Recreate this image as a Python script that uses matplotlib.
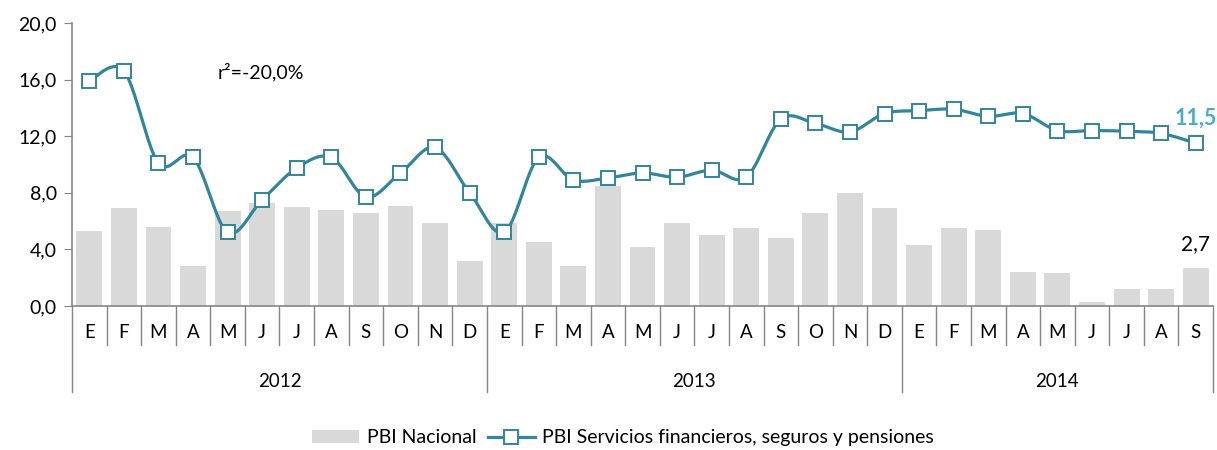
import numpy as np
import matplotlib.pyplot as plt
from matplotlib.lines import Line2D
from matplotlib.patches import Patch

plt.rcParams["font.family"] = ["Lato", "DejaVu Sans"]

months = ["E", "F", "M", "A", "M", "J", "J", "A", "S", "O", "N", "D",
          "E", "F", "M", "A", "M", "J", "J", "A", "S", "O", "N", "D",
          "E", "F", "M", "A", "M", "J", "J", "A", "S"]
years = ["2012", "2013", "2014"]
year_counts = [12, 12, 9]

pbi_nacional = [5.3, 6.9, 5.6, 2.8, 6.7, 7.3, 7.0, 6.8, 6.6, 7.1, 5.9, 3.2,
                5.9, 4.5, 2.8, 8.5, 4.2, 5.9, 5.0, 5.5, 4.8, 6.6, 8.0, 6.9,
                4.3, 5.5, 5.4, 2.4, 2.3, 0.3, 1.2, 1.2, 2.7]
pbi_financiero = [15.9, 16.6, 10.1, 10.5, 5.2, 7.5, 9.75, 10.5, 7.7, 9.4, 11.2, 8.0,
                  5.2, 10.5, 8.9, 9.05, 9.4, 9.1, 9.6, 9.1, 13.2, 12.9, 12.3, 13.6,
                  13.8, 13.9, 13.4, 13.6, 12.4, 12.4, 12.35, 12.2, 11.5]

teal = "#31859c"
gray_bar = "#d9d9d9"
axis_gray = "#868686"


def smooth_curve(x, y, steps=24):
    # Excel-style smoothed line: Bezier segments, control points from neighbours
    x = np.asarray(x, float)
    y = np.asarray(y, float)
    px, py = [], []
    n = len(x)
    for i in range(n - 1):
        x0, y0 = (x[i - 1], y[i - 1]) if i > 0 else (x[i], y[i])
        x3, y3 = (x[i + 2], y[i + 2]) if i + 2 < n else (x[i + 1], y[i + 1])
        c1x = x[i] + (x[i + 1] - x0) / 6
        c1y = y[i] + (y[i + 1] - y0) / 6
        c2x = x[i + 1] - (x3 - x[i]) / 6
        c2y = y[i + 1] - (y3 - y[i]) / 6
        t = np.linspace(0, 1, steps)
        bx = (1 - t) ** 3 * x[i] + 3 * (1 - t) ** 2 * t * c1x + 3 * (1 - t) * t ** 2 * c2x + t ** 3 * x[i + 1]
        by = (1 - t) ** 3 * y[i] + 3 * (1 - t) ** 2 * t * c1y + 3 * (1 - t) * t ** 2 * c2y + t ** 3 * y[i + 1]
        px.extend(bx)
        py.extend(by)
    return px, py


fig = plt.figure(figsize=(12.17, 4.5), dpi=100)
ax = fig.add_axes([0.0592, 0.32, 0.9375, 0.629])

x = np.arange(len(months))
ax.bar(x, pbi_nacional, width=0.75, color=gray_bar, zorder=1)

sx, sy = smooth_curve(x, pbi_financiero)
ax.plot(sx, sy, color=teal, linewidth=2.3, zorder=2)
ax.plot(x, pbi_financiero, linestyle="none", marker="s", markersize=9.5,
        markerfacecolor="white", markeredgecolor=teal, markeredgewidth=1.4, zorder=3)

ax.set_xlim(-0.5, len(months) - 0.5)
ax.set_ylim(0, 20)
ax.set_yticks(np.arange(0, 20.1, 4))
ax.set_yticklabels([f"{v:.1f}".replace(".", ",") for v in np.arange(0, 20.1, 4)], fontsize=14)
ax.tick_params(axis="y", direction="out", length=6, color=axis_gray, pad=5)
ax.set_xticks([])
for s in ["top", "right"]:
    ax.spines[s].set_visible(False)
for s in ["left", "bottom"]:
    ax.spines[s].set_color(axis_gray)
    ax.spines[s].set_linewidth(1.2)

# category axis: month row and year row with separators
trans = ax.get_xaxis_transform()
year_edges = np.cumsum([0] + year_counts) - 0.5
for b in np.arange(-0.5, len(months), 1.0):
    depth = -0.305 if np.any(np.isclose(b, year_edges)) else -0.138
    ax.plot([b, b], [0, depth], transform=trans, color=axis_gray, linewidth=1.0, clip_on=False)
for i, m in enumerate(months):
    ax.text(i, -0.095, m, transform=trans, ha="center", va="center", fontsize=13.5)
for k, yr in enumerate(years):
    mid = (year_edges[k] + year_edges[k + 1]) / 2
    ax.text(mid, -0.265, yr, transform=trans, ha="center", va="center", fontsize=13.5)

ax.text(3.7, 16.5, "r²=-20,0%", ha="left", va="center", fontsize=14)
ax.text(x[-1], 13.3, "11,5", ha="center", va="center", fontsize=15.5,
        fontweight="bold", color="#4bacc6")
ax.text(x[-1], 4.4, "2,7", ha="center", va="center", fontsize=15)

handles = [
    Patch(facecolor=gray_bar, edgecolor="none"),
    Line2D([0], [0], color=teal, linewidth=2.3, marker="s", markersize=9.5,
           markerfacecolor="white", markeredgecolor=teal, markeredgewidth=1.4),
]
fig.legend(handles, ["PBI Nacional", "PBI Servicios financieros, seguros y pensiones"],
           loc="center", bbox_to_anchor=(0.512, 0.027), ncol=2, frameon=False,
           fontsize=14, handlelength=2.4, columnspacing=0.6, handletextpad=0.4)

fig.savefig("out.png", dpi=100)
